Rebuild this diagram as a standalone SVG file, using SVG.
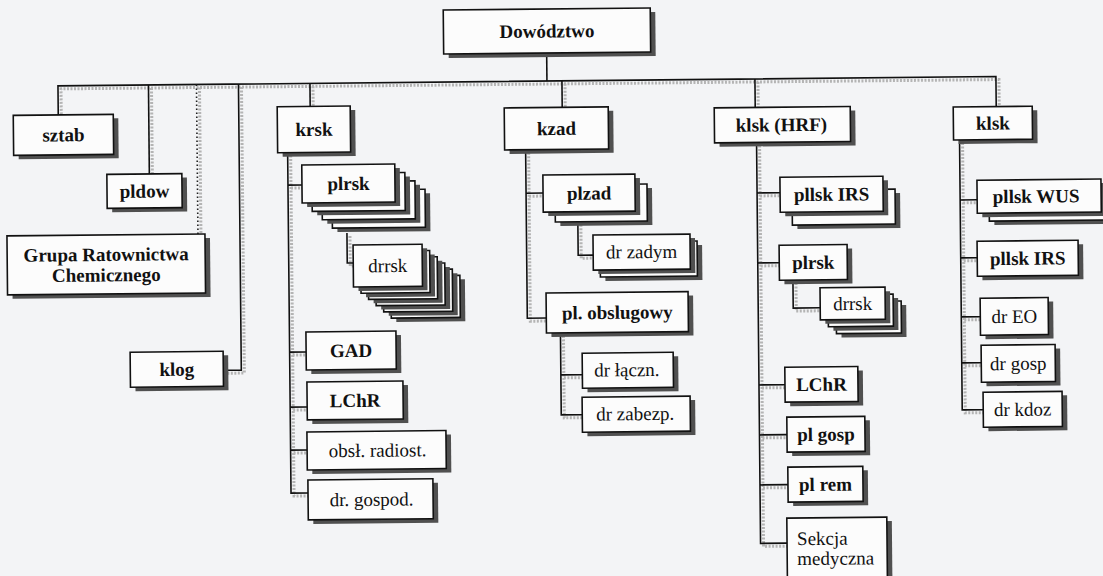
<svg xmlns="http://www.w3.org/2000/svg" width="1103" height="576" viewBox="0 0 1103 576" font-family="'Liberation Serif', 'DejaVu Serif', serif">
  <style>
    .bg { fill: #f3f4f6; }
    .box { fill: #fcfcfc; stroke: #111; stroke-width: 1.6; }
    .sh { fill: #505050; }
    text { font-family: 'Liberation Serif', 'DejaVu Serif', serif; font-size: 19px; fill: #111; text-anchor: middle; }
    .b { font-weight: bold; }
    .l { text-anchor: start; }
    .ln { fill: none; stroke: #111; stroke-width: 1.6; }
    .dot { fill: none; stroke: #222; stroke-width: 1.6; stroke-dasharray: 1.5 2.5; }
    .lsh { fill: none; stroke: #b4b4b4; stroke-width: 3; stroke-dasharray: 2 1.5; }
  </style>
  <rect class="bg" x="0" y="0" width="1103" height="576"/>

  <!-- whole chart sits slightly tilted on the page -->
  <g transform="rotate(-0.57 551 288)">

    <!-- connectors: gray shadow copy first, then the black lines -->
    <g id="connectors">
      <g class="lsh" transform="translate(3 3)">
        <path d="M60,110 V81 H998 V111"/>
        <path d="M150.5,81 V170"/>
        <path d="M198.5,81 V230.5"/>
        <path d="M240.5,81 V367 H222.5"/>
        <path d="M312,81 V104"/>
        <path d="M289,150 V490.5 H306 M289,182.5 H303 M289,349.5 H305.5 M289,404.5 H306 M289,447.5 H305.5"/>
        <path d="M347.5,231 V261 H353.5"/>
        <path d="M564,81 V107.5"/>
        <path d="M527,149.5 V318 H546 M527,193 H544"/>
        <path d="M578.5,222 V255.5 H593.5"/>
        <path d="M560,333 V415 H581 M560,375 H581.5"/>
        <path d="M757,81 V109.5"/>
        <path d="M758,144.5 V545.5 H784.5 M758,195 H781 M758,265 H779.5 M758,387 H784 M758,437 H785.5 M758,487 H786"/>
        <path d="M793,282.5 V310.5 H820"/>
        <path d="M961,144 V414 H982 M961,204 H978 M961,262 H977.5 M961,321 H980 M961,367 H980.5"/>
      </g>
      <path class="ln" d="M60,110 V81 H998 V111"/>
      <path class="ln" d="M549,53 V81"/>
      <path class="ln" d="M150.5,81 V170"/>
      <path class="dot" d="M198.5,81 V230.5"/>
      <path class="ln" d="M240.5,81 V367 H222.5"/>
      <path class="ln" d="M312,81 V104"/>
      <path class="ln" d="M289,150 V490.5 H306 M289,182.5 H303 M289,349.5 H305.5 M289,404.5 H306 M289,447.5 H305.5"/>
      <path class="ln" d="M347.5,231 V261 H353.5"/>
      <path class="ln" d="M564,81 V107.5"/>
      <path class="ln" d="M527,149.5 V318 H546 M527,193 H544"/>
      <path class="ln" d="M578.5,222 V255.5 H593.5"/>
      <path class="ln" d="M560,333 V415 H581 M560,375 H581.5"/>
      <path class="ln" d="M757,81 V109.5"/>
      <path class="ln" d="M758,144.5 V545.5 H784.5 M758,195 H781 M758,265 H779.5 M758,387 H784 M758,437 H785.5 M758,487 H786"/>
      <path class="ln" d="M793,282.5 V310.5 H820"/>
      <path class="ln" d="M961,144 V414 H982 M961,204 H978 M961,262 H977.5 M961,321 H980 M961,367 H980.5"/>
    </g>

    <g id="dowodztwo">
      <rect class="sh" x="451" y="13" width="207" height="44"/>
      <rect class="box" x="446" y="9" width="207" height="44"/>
      <text class="b" x="549.5" y="37.5">Dowództwo</text>
    </g>

    <g id="sztab">
      <rect class="sh" x="20" y="114" width="100" height="40"/>
      <rect class="box" x="15" y="110" width="100" height="40"/>
      <text class="b" x="65" y="136.5">sztab</text>
    </g>

    <g id="pldow">
      <rect class="sh" x="113" y="174" width="75" height="34"/>
      <rect class="box" x="108" y="170" width="75" height="34"/>
      <text class="b" x="145.5" y="193.5">pldow</text>
    </g>

    <g id="grupa">
      <rect class="sh" x="12.5" y="234.5" width="198" height="59"/>
      <rect class="box" x="7.5" y="230.5" width="198" height="59"/>
      <text class="b" x="106.5" y="256.5">Grupa Ratownictwa</text>
      <text class="b" x="106.5" y="277">Chemicznego</text>
    </g>

    <g id="klog">
      <rect class="sh" x="134.5" y="352" width="93" height="35"/>
      <rect class="box" x="129.5" y="348" width="93" height="35"/>
      <text class="b" x="176" y="372">klog</text>
    </g>

    <!-- krsk branch -->
    <g id="krsk">
      <rect class="sh" x="284" y="108" width="73" height="46"/>
      <rect class="box" x="279" y="104" width="73" height="46"/>
      <text class="b" x="315.5" y="133.5">krsk</text>
    </g>

    <g id="plrsk-krsk">
      <rect class="sh" x="338" y="192" width="93" height="38"/>
      <rect class="box" x="333" y="188" width="93" height="38"/>
      <rect class="sh" x="328" y="183.5" width="93" height="38"/>
      <rect class="box" x="323" y="179.5" width="93" height="38"/>
      <rect class="sh" x="318" y="175" width="93" height="38"/>
      <rect class="box" x="313" y="171" width="93" height="38"/>
      <rect class="sh" x="308" y="166.5" width="93" height="38"/>
      <rect class="box" x="303" y="162.5" width="93" height="38"/>
      <text class="b" x="349.5" y="188">plrsk</text>
    </g>

    <g id="drrsk-krsk">
      <rect class="sh" x="396" y="278.5" width="69" height="42"/>
      <rect class="box" x="391" y="274.5" width="69" height="42"/>
      <rect class="sh" x="388.5" y="272.2" width="69" height="42"/>
      <rect class="box" x="383.5" y="268.2" width="69" height="42"/>
      <rect class="sh" x="381" y="265.9" width="69" height="42"/>
      <rect class="box" x="376" y="261.9" width="69" height="42"/>
      <rect class="sh" x="373.5" y="259.6" width="69" height="42"/>
      <rect class="box" x="368.5" y="255.6" width="69" height="42"/>
      <rect class="sh" x="366" y="253.3" width="69" height="42"/>
      <rect class="box" x="361" y="249.3" width="69" height="42"/>
      <rect class="sh" x="358.5" y="247" width="69" height="42"/>
      <rect class="box" x="353.5" y="243" width="69" height="42"/>
      <text x="388" y="270.5">drrsk</text>
    </g>

    <g id="gad">
      <rect class="sh" x="310.5" y="333.5" width="90" height="38"/>
      <rect class="box" x="305.5" y="329.5" width="90" height="38"/>
      <text class="b" x="350.5" y="355">GAD</text>
    </g>

    <g id="lchr-krsk">
      <rect class="sh" x="311" y="383.5" width="96" height="38"/>
      <rect class="box" x="306" y="379.5" width="96" height="38"/>
      <text class="b" x="354" y="405">LChR</text>
    </g>

    <g id="obsl-radiost">
      <rect class="sh" x="310.5" y="433.5" width="139" height="38"/>
      <rect class="box" x="305.5" y="429.5" width="139" height="38"/>
      <text x="376" y="455">obsł. radiost.</text>
    </g>

    <g id="dr-gospod">
      <rect class="sh" x="311" y="481.5" width="125" height="40"/>
      <rect class="box" x="306" y="477.5" width="125" height="40"/>
      <text x="369.5" y="504">dr. gospod.</text>
    </g>

    <!-- kzad branch -->
    <g id="kzad">
      <rect class="sh" x="511" y="111.5" width="104" height="42"/>
      <rect class="box" x="506" y="107.5" width="104" height="42"/>
      <text class="b" x="558" y="135">kzad</text>
    </g>

    <g id="plzad">
      <rect class="sh" x="561" y="189" width="92" height="37"/>
      <rect class="box" x="556" y="185" width="92" height="37"/>
      <rect class="sh" x="549" y="179" width="92" height="37"/>
      <rect class="box" x="544" y="175" width="92" height="37"/>
      <text class="b" x="590" y="200">plzad</text>
    </g>

    <g id="dr-zadym">
      <rect class="sh" x="605.5" y="246.5" width="97" height="35"/>
      <rect class="box" x="600.5" y="242.5" width="97" height="35"/>
      <rect class="sh" x="598.5" y="239.5" width="97" height="35"/>
      <rect class="box" x="593.5" y="235.5" width="97" height="35"/>
      <text x="642" y="259">dr zadym</text>
    </g>

    <g id="pl-obslugowy">
      <rect class="sh" x="551" y="297" width="142" height="40"/>
      <rect class="box" x="546" y="293" width="142" height="40"/>
      <text class="b" x="617" y="319.5">pl. obslugowy</text>
    </g>

    <g id="dr-laczn">
      <rect class="sh" x="586.5" y="357.5" width="91" height="35"/>
      <rect class="box" x="581.5" y="353.5" width="91" height="35"/>
      <text x="626" y="377">dr łączn.</text>
    </g>

    <g id="dr-zabezp">
      <rect class="sh" x="586" y="401.5" width="108" height="35"/>
      <rect class="box" x="581" y="397.5" width="108" height="35"/>
      <text x="634" y="421">dr zabezp.</text>
    </g>

    <!-- klsk (HRF) branch -->
    <g id="klsk-hrf">
      <rect class="sh" x="721" y="113.5" width="136" height="35"/>
      <rect class="box" x="716" y="109.5" width="136" height="35"/>
      <text class="b" x="783" y="133.5">klsk (HRF)</text>
    </g>

    <g id="pllsk-irs-hrf">
      <rect class="sh" x="798" y="196.5" width="103" height="35"/>
      <rect class="box" x="793" y="192.5" width="103" height="35"/>
      <rect class="sh" x="786" y="183.5" width="103" height="35"/>
      <rect class="box" x="781" y="179.5" width="103" height="35"/>
      <text class="b" x="832.5" y="203.5">pllsk IRS</text>
    </g>

    <g id="plrsk-hrf">
      <rect class="sh" x="784.5" y="251.5" width="68" height="35"/>
      <rect class="box" x="779.5" y="247.5" width="68" height="35"/>
      <text class="b" x="813.5" y="271.5">plrsk</text>
    </g>

    <g id="drrsk-hrf">
      <rect class="sh" x="841" y="308.5" width="65" height="32"/>
      <rect class="box" x="836" y="304.5" width="65" height="32"/>
      <rect class="sh" x="833" y="301.5" width="65" height="32"/>
      <rect class="box" x="828" y="297.5" width="65" height="32"/>
      <rect class="sh" x="825" y="294.5" width="65" height="32"/>
      <rect class="box" x="820" y="290.5" width="65" height="32"/>
      <text x="852.5" y="313">drrsk</text>
    </g>

    <g id="lchr-hrf">
      <rect class="sh" x="789" y="373.5" width="73" height="35"/>
      <rect class="box" x="784" y="369.5" width="73" height="35"/>
      <text class="b" x="820.5" y="393.5">LChR</text>
    </g>

    <g id="pl-gosp">
      <rect class="sh" x="790.5" y="423.5" width="78" height="35"/>
      <rect class="box" x="785.5" y="419.5" width="78" height="35"/>
      <text class="b" x="824.5" y="443.5">pl gosp</text>
    </g>

    <g id="pl-rem">
      <rect class="sh" x="791" y="473.5" width="75" height="35"/>
      <rect class="box" x="786" y="469.5" width="75" height="35"/>
      <text class="b" x="823.5" y="493.5">pl rem</text>
    </g>

    <g id="sekcja-medyczna">
      <rect class="sh" x="789.5" y="524.5" width="100" height="70"/>
      <rect class="box" x="784.5" y="520.5" width="100" height="70"/>
      <text class="l" x="794.5" y="547.5">Sekcja</text>
      <text class="l" x="794.5" y="567.5">medyczna</text>
    </g>

    <!-- klsk branch -->
    <g id="klsk">
      <rect class="sh" x="960" y="115" width="79" height="33"/>
      <rect class="box" x="955" y="111" width="79" height="33"/>
      <text class="b" x="994.5" y="134">klsk</text>
    </g>

    <g id="pllsk-wus">
      <rect class="sh" x="995" y="196.5" width="124" height="33"/>
      <rect class="box" x="990" y="192.5" width="124" height="33"/>
      <rect class="sh" x="983" y="188.5" width="124" height="33"/>
      <rect class="box" x="978" y="184.5" width="124" height="33"/>
      <text class="b" x="1037" y="207.5">pllsk WUS</text>
    </g>

    <g id="pllsk-irs">
      <rect class="sh" x="982.5" y="249.5" width="101" height="35"/>
      <rect class="box" x="977.5" y="245.5" width="101" height="35"/>
      <text class="b" x="1028" y="269.5">pllsk IRS</text>
    </g>

    <g id="dr-eo">
      <rect class="sh" x="985" y="306.5" width="68" height="37"/>
      <rect class="box" x="980" y="302.5" width="68" height="37"/>
      <text x="1014" y="327.5">dr EO</text>
    </g>

    <g id="dr-gosp">
      <rect class="sh" x="985.5" y="353.5" width="74" height="37"/>
      <rect class="box" x="980.5" y="349.5" width="74" height="37"/>
      <text x="1017.5" y="374.5">dr gosp</text>
    </g>

    <g id="dr-kdoz">
      <rect class="sh" x="987" y="400.5" width="79" height="35"/>
      <rect class="box" x="982" y="396.5" width="79" height="35"/>
      <text x="1021.5" y="420.5">dr kdoz</text>
    </g>
  </g>
</svg>
